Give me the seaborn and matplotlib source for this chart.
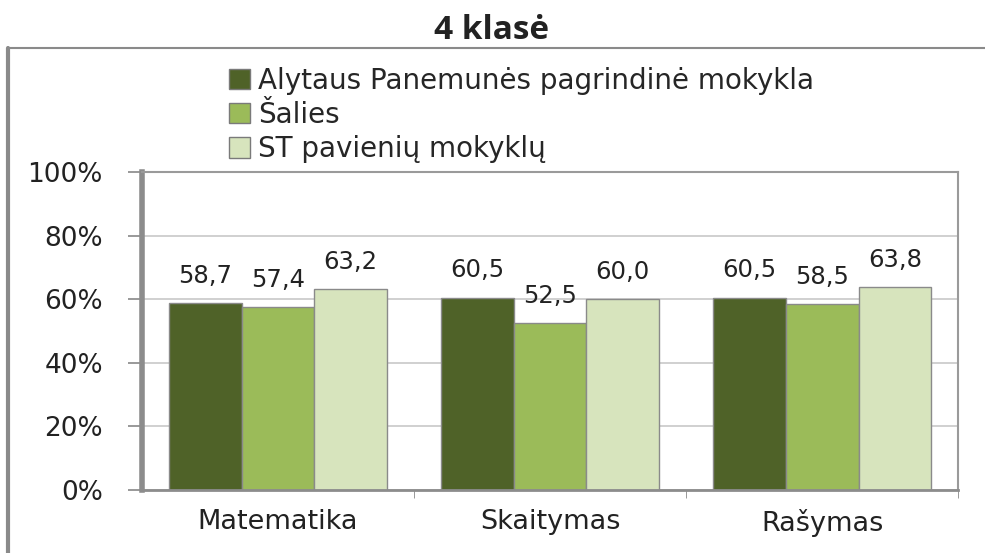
import pandas as pd
import matplotlib.pyplot as plt
import seaborn as sns
from matplotlib.lines import Line2D

subjects = ['Matematika', 'Skaitymas', 'Rašymas']
groups = ['Alytaus Panemunės pagrindinė mokykla', 'Šalies', 'ST pavienių mokyklų']
school = [58.7, 60.5, 60.5]
country = [57.4, 52.5, 58.5]
st_schools = [63.2, 60.0, 63.8]
colors = ['#4F6228', '#9BBB59', '#D7E4BD']

df = pd.DataFrame({
    'subject': subjects * 3,
    'group': [groups[0]] * 3 + [groups[1]] * 3 + [groups[2]] * 3,
    'value': school + country + st_schools,
})

sns.set_style('white')
plt.rcParams['font.family'] = ['DejaVu Sans']

fig = plt.figure(figsize=(9.85, 5.53), dpi=100)
ax = fig.add_axes([0.144, 0.114, 0.829, 0.575])

sns.barplot(data=df, x='subject', y='value', hue='group', palette=colors,
            order=subjects, hue_order=groups, width=0.8, gap=0, saturation=1,
            edgecolor='#8a8a8a', linewidth=1.0, ax=ax, legend=True)

for cont in ax.containers:
    ax.bar_label(cont, labels=[f'{v:.1f}'.replace('.', ',') for v in cont.datavalues],
                 padding=11, fontsize=17.5, color='#222222')

ax.set_ylim(0, 100)
ax.set_xlim(-0.5, 2.5)
ax.set_yticks([0, 20, 40, 60, 80, 100])
ax.set_yticklabels([f'{t}%' for t in [0, 20, 40, 60, 80, 100]], fontsize=19, color='#222222')
ax.set_xticks([0, 1, 2])
ax.set_xticklabels(subjects, fontsize=19.5, color='#222222')
ax.tick_params(axis='x', length=0, pad=14)
ax.tick_params(axis='y', length=10, color='#888888', width=1.2, pad=18, direction='out', left=True)
ax.set_xticks([0.5, 1.5, 2.5], minor=True)
ax.tick_params(axis='x', which='minor', length=6, color='#888888', direction='out', bottom=True)
ax.set_xlabel('')
ax.set_ylabel('')
ax.yaxis.grid(True, color='#c8c8c8', linewidth=1.2)
ax.set_axisbelow(True)

ax.spines['left'].set_color('#8c8c8c')
ax.spines['left'].set_linewidth(4)
ax.spines['bottom'].set_color('#8c8c8c')
ax.spines['bottom'].set_linewidth(2)
ax.spines['top'].set_color('#9a9a9a')
ax.spines['top'].set_linewidth(1.5)
ax.spines['right'].set_color('#9a9a9a')
ax.spines['right'].set_linewidth(1.5)

leg = ax.legend(loc='lower left', bbox_to_anchor=(0.093, 0.993), frameon=False,
                handlelength=0.75, handleheight=0.75, handletextpad=0.3, labelspacing=0.22,
                prop={'family': 'DejaVu Sans', 'size': 20}, borderaxespad=0.0)
for h in leg.legend_handles:
    h.set_edgecolor('#7a7a7a')

fig.text(0.499, 0.944, '4 klasė', ha='center', va='center', fontsize=24,
         fontweight='bold', family='Open Sans', color='#222222')

# outer chart frame
fig.add_artist(Line2D([0.008, 0.008], [0, 0.913], color='#8a8a8a', linewidth=3))
fig.add_artist(Line2D([0.008, 1.0], [0.913, 0.913], color='#8a8a8a', linewidth=1.5))

fig.savefig('out.png', dpi=100)
